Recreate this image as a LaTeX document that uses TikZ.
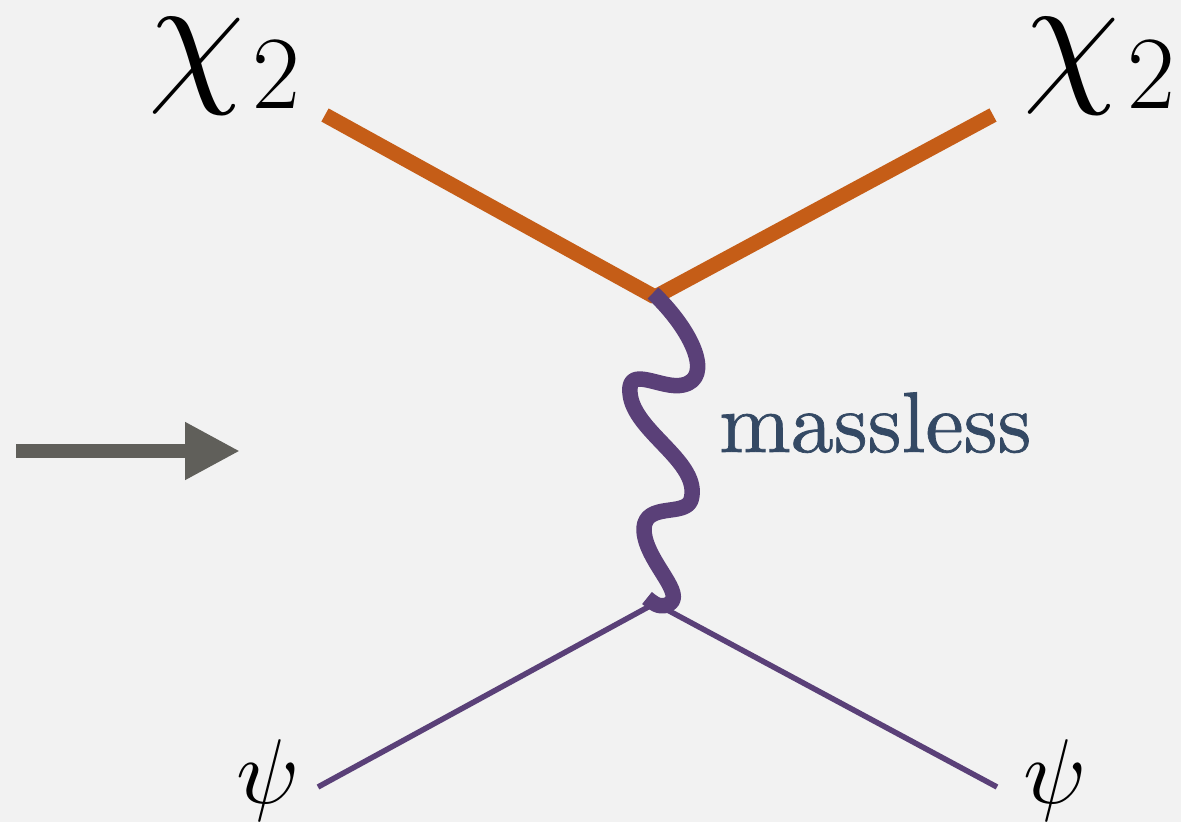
\documentclass[tikz,border=0pt]{standalone}
\usepackage{graphicx}
\usepackage{fontspec}
\usetikzlibrary{arrows.meta}
\newfontfamily\massfont{lmroman10-regular.otf}[FakeBold=0.8]
\definecolor{bg}{RGB}{242,242,242}
\definecolor{chiorange}{RGB}{197,93,23}
\definecolor{bosonpurple}{RGB}{90,64,120}
\definecolor{labelblue}{RGB}{52,73,100}
\definecolor{arrowgray}{RGB}{96,95,90}
\tikzset{
  chiline/.style={draw=chiorange, line width=15pt, line cap=butt},
  psiline/.style={draw=bosonpurple, line width=5.5pt, line cap=butt},
  boson/.style={draw=bosonpurple, line width=15.5pt, line cap=butt, line join=round},
  chilabel/.style={inner sep=0pt, anchor=base west},
  psilabel/.style={inner sep=0pt, anchor=base west},
  masslabel/.style={inner sep=0pt, anchor=base west, text=labelblue, font=\massfont\fontsize{86}{86}\selectfont},
  bigarrow/.style={draw=arrowgray, line width=14pt, -{Triangle[length=55pt,width=54pt]}, fill=arrowgray}
}
\newcommand{\chitwo}{\raisebox{24pt}{\scalebox{15.4}{$\chi$}}\hspace{8pt}{\fontsize{104}{104}\selectfont 2}}
\newcommand{\psisym}{\scalebox{9.2}{$\psi$}}
\begin{document}
\begin{tikzpicture}[x=1pt,y=-1pt]
\fill[bg] (0,0) rectangle (1181,822);
\useasboundingbox (0,0) rectangle (1181,822);
% vertices and external points
\coordinate (vtop) at (655,297);
\coordinate (vbotL) at (650,606);
\coordinate (vbotR) at (660,606);
\coordinate (chiLend) at (325,115);
\coordinate (chiRend) at (993,115);
\coordinate (psiLend) at (318,787);
\coordinate (psiRend) at (997,787);
\coordinate (wstart) at (653,293);
\coordinate (wend) at (647,598);
% labels
\node[chilabel] (chiL) at (148,108) {\chitwo};
\node[chilabel] (chiR) at (1023,108) {\chitwo};
\node[psilabel] (psiL) at (236,803) {\psisym};
\node[psilabel] (psiR) at (1023,803) {\psisym};
\node[masslabel] (mass) at (719,452) {massless};
% lines
\draw[chiline] (chiLend) -- (vtop);
\draw[chiline] (chiRend) -- (vtop);
\draw[psiline] (psiLend) -- (vbotL);
\draw[psiline] (vbotR) -- (psiRend);
\draw[boson] (wstart)
  .. controls (692,330) and (714,378) .. (683,385)
  .. controls (662,390) and (627,364) .. (630,393)
  .. controls (633,432) and (702,462) .. (691,500)
  .. controls (685,517) and (646,502) .. (644,528)
  .. controls (643,560) and (690,596) .. (667,605)
  .. controls (658,608) and (652,602) .. (wend);
% arrow
\coordinate (arrS) at (16,451);
\coordinate (arrE) at (240,451);
\draw[bigarrow] (arrS) -- (arrE);
\end{tikzpicture}
\end{document}
